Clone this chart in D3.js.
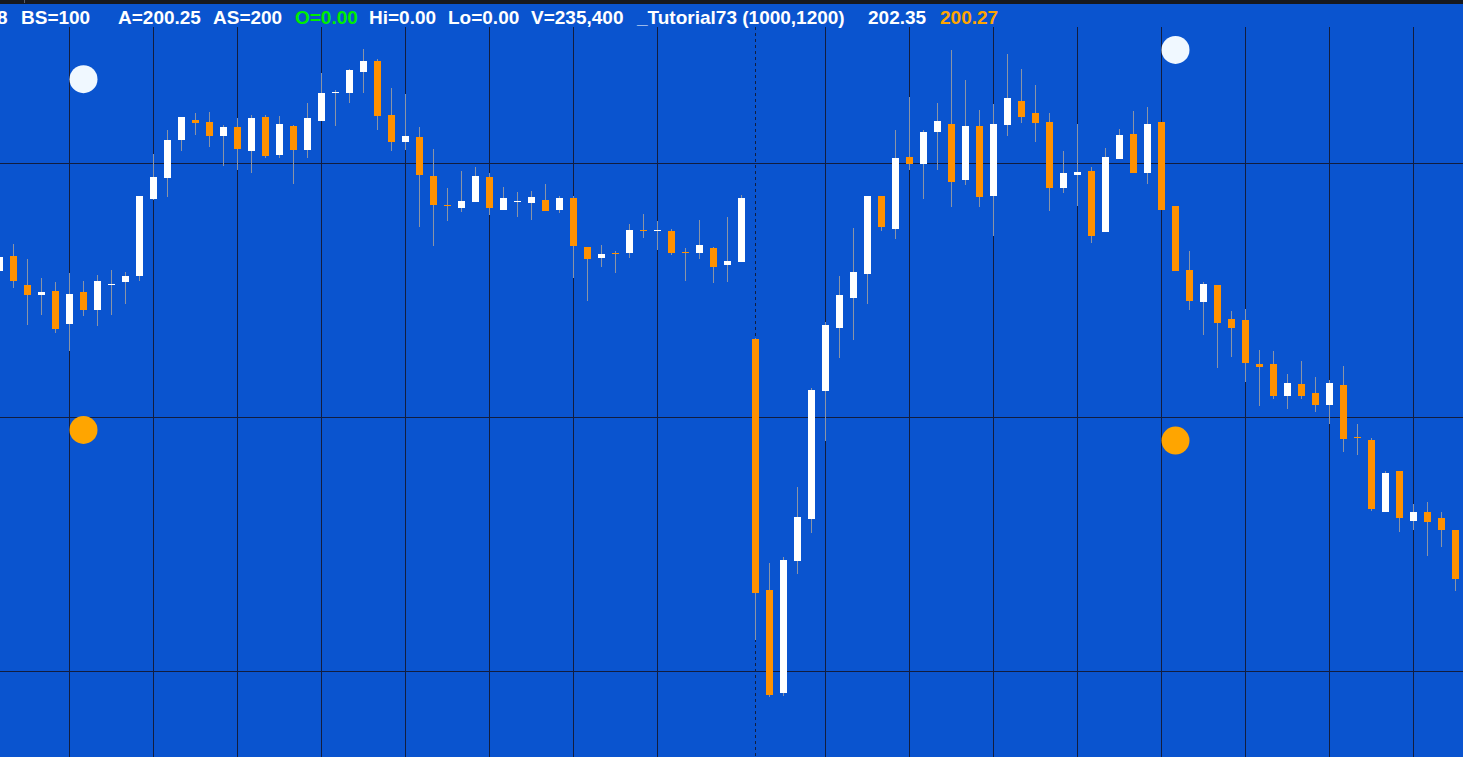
<!DOCTYPE html>
<html>
<head>
<meta charset="utf-8">
<script src="https://cdn.jsdelivr.net/npm/d3@7"></script>
<style>
  html, body { margin: 0; padding: 0; background: #0a54cf; overflow: hidden; }
  svg { display: block; }
  .hdr { font-family: "Liberation Sans", Arial, sans-serif; font-size: 19px; font-weight: bold; }
</style>
</head>
<body>
<svg width="1463" height="757"></svg>
<script>
// OHLC per bar, left to right (first bar is cut by the left edge)
const opens = [201.575, 201.634, 201.520, 201.480, 201.496, 201.366, 201.492, 201.421, 201.520, 201.531,
  201.555, 201.858, 201.941, 202.091, 202.169, 202.161, 202.106, 202.142, 202.047, 202.181,
  202.031, 202.146, 202.051, 202.165, 202.276, 202.276, 202.358, 202.402, 202.189, 202.083,
  202.102, 201.949, 201.835, 201.823, 201.846, 201.945, 201.815, 201.846, 201.843, 201.854,
  201.815, 201.862, 201.669, 201.626, 201.646, 201.646, 201.736, 201.732, 201.732, 201.650,
  201.646, 201.665, 201.598, 201.610, 201.307, 200.319, 199.913, 200.433, 200.598, 201.102,
  201.350, 201.469, 201.563, 201.870, 201.740, 202.024, 201.996, 202.122, 202.154, 201.933,
  202.146, 201.870, 202.150, 202.244, 202.197, 202.161, 201.902, 201.953, 201.969, 201.728,
  202.016, 202.114, 201.961, 202.161, 201.831, 201.579, 201.453, 201.520, 201.386, 201.382,
  201.209, 201.209, 201.083, 201.130, 201.094, 201.047, 201.126, 200.921, 200.909, 200.626,
  200.787, 200.591, 200.626, 200.602, 200.555];
const highs = [201.638, 201.681, 201.622, 201.547, 201.531, 201.567, 201.535, 201.559, 201.579, 201.571,
  201.870, 202.035, 202.130, 202.181, 202.197, 202.201, 202.150, 202.177, 202.189, 202.189,
  202.185, 202.150, 202.236, 202.354, 202.287, 202.370, 202.449, 202.409, 202.295, 202.272,
  202.142, 202.055, 201.902, 201.969, 201.984, 201.961, 201.906, 201.886, 201.890, 201.917,
  201.870, 201.870, 201.669, 201.677, 201.654, 201.760, 201.799, 201.772, 201.740, 201.665,
  201.776, 201.669, 201.787, 201.874, 201.311, 200.425, 200.449, 200.724, 201.114, 201.374,
  201.555, 201.744, 201.870, 201.870, 202.130, 202.260, 202.130, 202.236, 202.445, 202.327,
  202.209, 202.232, 202.429, 202.370, 202.307, 202.197, 202.047, 202.154, 201.984, 202.059,
  202.134, 202.205, 202.220, 202.161, 201.831, 201.654, 201.531, 201.520, 201.417, 201.425,
  201.264, 201.260, 201.169, 201.220, 201.157, 201.146, 201.201, 200.972, 200.917, 200.787,
  200.787, 200.657, 200.665, 200.626, 200.555];
const lows = [201.567, 201.508, 201.362, 201.402, 201.331, 201.260, 201.398, 201.358, 201.402, 201.445,
  201.535, 201.854, 201.866, 202.047, 202.110, 202.063, 201.988, 201.972, 201.961, 202.020,
  202.020, 201.917, 202.020, 202.165, 202.146, 202.236, 202.276, 202.130, 202.047, 202.051,
  201.748, 201.673, 201.772, 201.807, 201.846, 201.795, 201.815, 201.787, 201.776, 201.811,
  201.803, 201.547, 201.457, 201.591, 201.567, 201.626, 201.705, 201.657, 201.638, 201.535,
  201.622, 201.528, 201.531, 201.610, 200.122, 199.898, 199.902, 200.382, 200.543, 200.906,
  201.232, 201.303, 201.445, 201.732, 201.701, 201.972, 201.858, 201.972, 201.827, 201.913,
  201.827, 201.713, 202.106, 202.157, 202.083, 201.811, 201.882, 201.831, 201.685, 201.728,
  202.016, 201.961, 201.917, 201.815, 201.575, 201.421, 201.323, 201.193, 201.236, 201.138,
  201.043, 201.071, 201.031, 201.071, 201.020, 200.972, 200.862, 200.850, 200.630, 200.626,
  200.547, 200.555, 200.453, 200.488, 200.315];
const closes = [201.630, 201.535, 201.480, 201.492, 201.346, 201.484, 201.421, 201.535, 201.524, 201.555,
  201.870, 201.945, 202.091, 202.181, 202.157, 202.106, 202.142, 202.055, 202.177, 202.028,
  202.154, 202.051, 202.177, 202.276, 202.280, 202.366, 202.402, 202.185, 202.083, 202.106,
  201.953, 201.835, 201.831, 201.850, 201.949, 201.823, 201.862, 201.850, 201.866, 201.811,
  201.862, 201.673, 201.622, 201.642, 201.642, 201.736, 201.732, 201.736, 201.646, 201.646,
  201.677, 201.591, 201.614, 201.862, 200.307, 199.906, 200.437, 200.606, 201.106, 201.362,
  201.480, 201.571, 201.870, 201.748, 202.020, 201.996, 202.122, 202.165, 201.925, 202.146,
  201.866, 202.154, 202.256, 202.181, 202.157, 201.902, 201.961, 201.965, 201.713, 202.024,
  202.110, 201.961, 202.154, 201.815, 201.575, 201.457, 201.524, 201.370, 201.350, 201.213,
  201.197, 201.083, 201.134, 201.083, 201.047, 201.134, 200.913, 200.917, 200.638, 200.780,
  200.602, 200.626, 200.587, 200.555, 200.362];

// indicator dots (bar index, upper value, lower value)
const dotBars = [6, 84];
const dotUpper = [202.330, 202.445];
const dotLower = [200.949, 200.907];

// grid
const gridBars = [5, 11, 17, 23, 29, 35, 41, 47, 59, 65, 71, 77, 83, 89, 95, 101];
const sessionBars = [54];
const gridPrices = [202, 201, 200];

// header strip
const headerLabels = ["8", "BS=100", "A=200.25", "AS=200", "O=0.00", "Hi=0.00", "Lo=0.00",
  "V=235,400", "_Tutorial73 (1000,1200)", "202.35", "200.27"];
const headerColors = ["#ffffff", "#ffffff", "#ffffff", "#ffffff", "#00ee00", "#ffffff", "#ffffff",
  "#ffffff", "#ffffff", "#ffffff", "#ffa500"];

const svg = d3.select("svg");
const width = +svg.attr("width");
const height = +svg.attr("height");

function render() {
  const bg = "#0a54cf";
  const gridColor = "#121d3f";
  const bars = opens.map((o, i) => ({ i, o, h: highs[i], l: lows[i], c: closes[i] }));

  const xScale = d3.scaleLinear().domain([0, bars.length - 1]).range([-0.5, 1455.5]);
  const yScale = d3.scaleLinear().domain([200, 202]).range([671, 163]);
  const half = 3.5;

  svg.append("rect").attr("width", width).attr("height", height).attr("fill", bg);

  // grid
  const grid = svg.append("g");
  grid.selectAll(".hg")
    .data(gridPrices)
    .enter()
    .append("line")
    .attr("x1", 0)
    .attr("x2", width)
    .attr("y1", (d) => Math.floor(yScale(d)) + 0.5)
    .attr("y2", (d) => Math.floor(yScale(d)) + 0.5)
    .attr("stroke", gridColor);
  grid.selectAll(".vg")
    .data(gridBars)
    .enter()
    .append("line")
    .attr("x1", (d) => Math.floor(xScale(d)) + 0.5)
    .attr("x2", (d) => Math.floor(xScale(d)) + 0.5)
    .attr("y1", 27)
    .attr("y2", height)
    .attr("stroke", gridColor);
  grid.selectAll(".sg")
    .data(sessionBars)
    .enter()
    .append("line")
    .attr("x1", (d) => Math.floor(xScale(d)) + 0.5)
    .attr("x2", (d) => Math.floor(xScale(d)) + 0.5)
    .attr("y1", 27)
    .attr("y2", height)
    .attr("stroke", gridColor)
    .attr("stroke-dasharray", "3,3");

  // wicks
  svg.append("g")
    .selectAll("line")
    .data(bars)
    .enter()
    .append("line")
    .attr("x1", (d) => Math.floor(xScale(d.i)) + 0.5)
    .attr("x2", (d) => Math.floor(xScale(d.i)) + 0.5)
    .attr("y1", (d) => Math.round(yScale(d.h)))
    .attr("y2", (d) => Math.round(yScale(d.l)))
    .attr("stroke", "#8a94a6");

  // bodies
  svg.append("g")
    .selectAll("rect")
    .data(bars)
    .enter()
    .append("rect")
    .attr("x", (d) => Math.round(xScale(d.i) - half))
    .attr("width", half * 2)
    .attr("y", (d) => Math.round(yScale(Math.max(d.o, d.c))))
    .attr("height", (d) =>
      Math.max(1, Math.round(yScale(Math.min(d.o, d.c))) - Math.round(yScale(Math.max(d.o, d.c)))))
    .attr("fill", (d) => (d.c < d.o ? "#ff9100" : "#ffffff"));

  // indicator dots
  const dots = svg.append("g");
  dots.selectAll(".up")
    .data(dotBars)
    .enter()
    .append("circle")
    .attr("cx", (d) => xScale(d))
    .attr("cy", (d, i) => yScale(dotUpper[i]))
    .attr("r", 14)
    .attr("fill", "#f0f8ff");
  dots.selectAll(".dn")
    .data(dotBars)
    .enter()
    .append("circle")
    .attr("cx", (d) => xScale(d))
    .attr("cy", (d, i) => yScale(dotLower[i]))
    .attr("r", 14)
    .attr("fill", "#ffa500");

  // header
  svg.append("rect").attr("width", width).attr("height", 4).attr("fill", "#17191f");
  svg.append("rect").attr("x", 24).attr("width", 1).attr("height", 3).attr("fill", "#5a6070");
  const headerX = [-3, 21, 118, 213, 295, 369, 448, 531, 637, 868, 940];
  svg.append("g")
    .selectAll("text")
    .data(headerLabels)
    .enter()
    .append("text")
    .attr("class", "hdr")
    .attr("x", (d, i) => headerX[i])
    .attr("y", 24)
    .attr("fill", (d, i) => headerColors[i])
    .text((d) => d);
}

render();
</script>
</body>
</html>
